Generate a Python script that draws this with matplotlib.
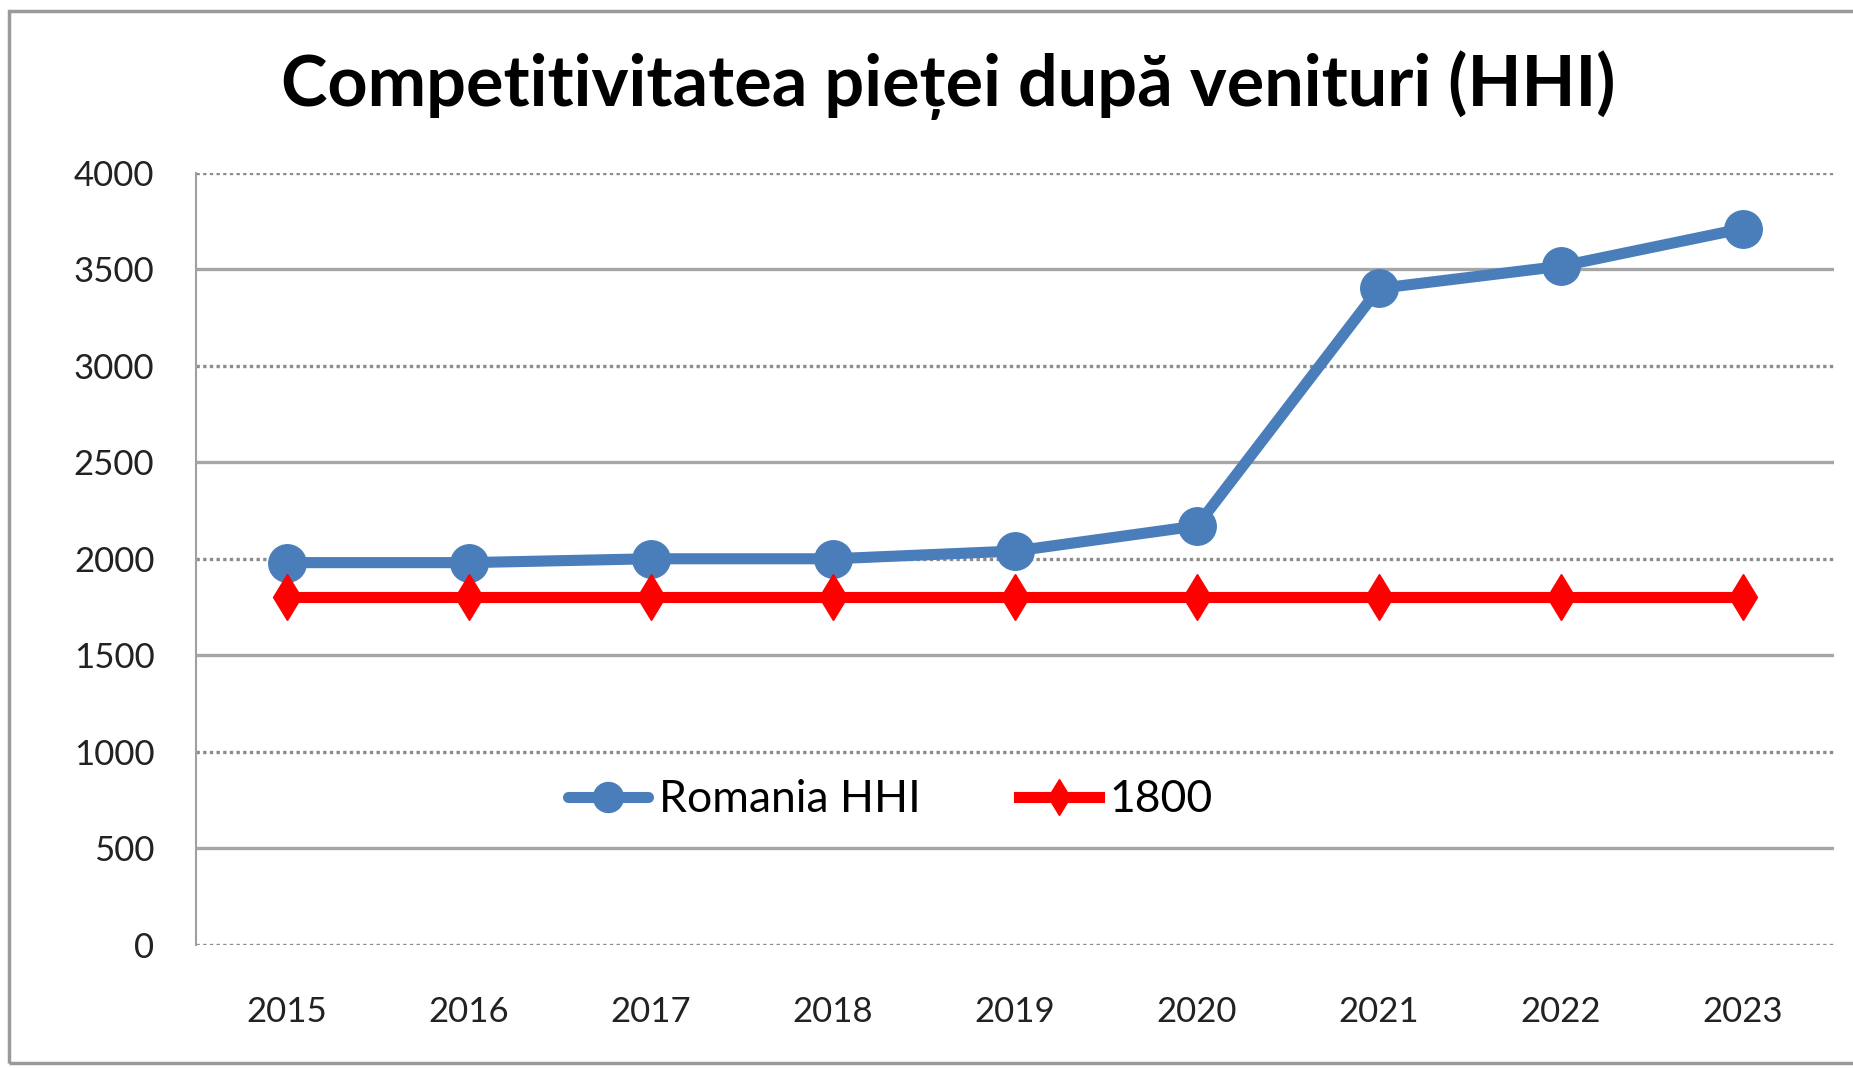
import matplotlib
matplotlib.use("Agg")
import matplotlib.pyplot as plt
from matplotlib.patches import Rectangle

years = ["2015", "2016", "2017", "2018", "2019", "2020", "2021", "2022", "2023"]
romania_hhi = [1980, 1980, 2000, 2000, 2040, 2170, 3400, 3515, 3710]
threshold = [1800, 1800, 1800, 1800, 1800, 1800, 1800, 1800, 1800]
yticks = [0, 500, 1000, 1500, 2000, 2500, 3000, 3500, 4000]

plt.rcParams['font.family'] = ['Lato', 'DejaVu Sans']

fig = plt.figure(figsize=(18.53, 10.69), dpi=100)
ax = fig.add_axes([0.1058, 0.116, 0.8839, 0.7226])

x = list(range(len(years)))
ax.plot(x, romania_hhi, color='#4A7EBB', lw=8, marker='o', ms=27,
        label='Romania HHI', solid_capstyle='round')
ax.plot(x, threshold, color='#FF0000', lw=8, marker='d', ms=23,
        label='1800')

ax.set_xlim(-0.5, len(years) - 0.5)
ax.set_ylim(0, 4000)
ax.set_yticks(yticks)
ax.set_yticklabels([str(v) for v in yticks])
ax.set_xticks(x)
ax.set_xticklabels(years)
ax.tick_params(axis='both', length=0, labelsize=25, labelcolor='#222222')
ax.tick_params(axis='y', pad=30)
ax.tick_params(axis='x', pad=37)

for v in yticks:
    if v % 1000 == 0:
        ax.axhline(v, color='#8C8C8C', lw=2.4, ls=(0, (1, 1)), zorder=0)
    else:
        ax.axhline(v, color='#A6A6A6', lw=2.4, zorder=0)

for s in ['top', 'right', 'bottom']:
    ax.spines[s].set_visible(False)
ax.spines['left'].set_color('#A0A0A0')
ax.spines['left'].set_linewidth(1.5)

fig.text(0.512, 0.92, 'Competitivitatea pieței după venituri (HHI)',
         ha='center', va='center', fontsize=50.5, fontweight='bold', color='black')

leg = ax.legend(loc='center', bbox_to_anchor=(0.424, 0.188), ncol=2, frameon=False,
                fontsize=32, handlelength=1.8, columnspacing=2.2, handletextpad=0.25,
                markerscale=0.8)

fig.patches.append(Rectangle((0.005, 0.006), 1.2, 0.984, transform=fig.transFigure,
                             fill=False, edgecolor='#9A9A9A', lw=2.5))

fig.savefig('out.png', dpi=100)
